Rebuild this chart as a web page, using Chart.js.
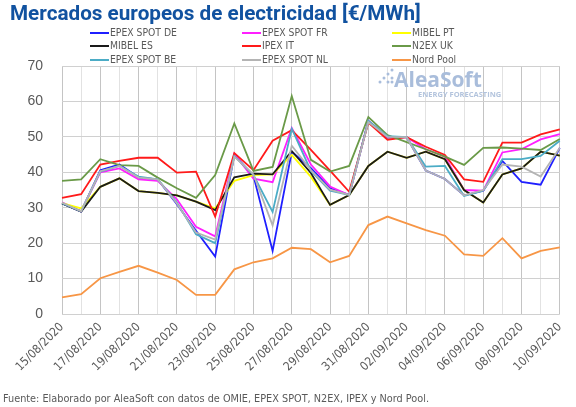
<!DOCTYPE html>
<html>
<head>
<meta charset="utf-8">
<script src="https://cdn.jsdelivr.net/npm/chart.js@4.4.0/dist/chart.umd.min.js"></script>
<style>
  html, body { margin: 0; padding: 0; background: #fff; }
</style>
</head>
<body>
<canvas id="chart" width="576" height="407"></canvas>
<script>
// daily prices 15/08/2020 - 10/09/2020, €/MWh
const dates = [
  '15/08/2020', '16/08/2020', '17/08/2020', '18/08/2020', '19/08/2020', '20/08/2020',
  '21/08/2020', '22/08/2020', '23/08/2020', '24/08/2020', '25/08/2020', '26/08/2020',
  '27/08/2020', '28/08/2020', '29/08/2020', '30/08/2020', '31/08/2020', '01/09/2020',
  '02/09/2020', '03/09/2020', '04/09/2020', '05/09/2020', '06/09/2020', '07/09/2020',
  '08/09/2020', '09/09/2020', '10/09/2020'
];

const epexDE = [31.2, 28.9, 40.6, 42.2, 38.5, 38.0, 31.0, 23.5, 16.2, 44.9, 39.0, 17.8, 45.8, 41.2,
  35.5, 33.6, 54.5, 49.8, 49.9, 40.5, 38.1, 33.5, 34.8, 43.2, 37.3, 36.5, 46.9];
const epexFR = [31.5, 29.0, 40.0, 41.1, 38.0, 37.6, 32.4, 24.6, 21.9, 45.2, 38.2, 37.2, 52.5, 42.2,
  36.0, 33.6, 54.5, 50.0, 49.9, 46.5, 44.4, 35.0, 34.8, 45.6, 46.5, 49.3, 50.8];
const mibelPT = [31.3, 29.8, 35.9, 38.3, 34.7, 34.2, 33.5, 31.7, 29.8, 37.6, 39.2, 39.4, 44.9, 38.7,
  30.8, 33.6, 41.8, 45.8, 44.1, 45.8, 43.7, 35.0, 31.5, 39.4, 41.1, 45.8, 44.7];
const mibelES = [31.2, 28.9, 35.9, 38.3, 34.7, 34.2, 33.5, 31.7, 29.3, 38.6, 39.6, 39.4, 46.0, 39.8,
  30.8, 33.6, 41.8, 45.8, 44.1, 45.8, 43.7, 35.0, 31.5, 39.4, 41.1, 45.8, 44.7];
const ipexIT = [32.8, 33.8, 42.2, 43.2, 44.1, 44.1, 39.9, 40.2, 27.5, 45.4, 40.6, 48.9, 51.9, 46.3,
  40.5, 34.5, 54.0, 49.2, 49.9, 47.2, 44.9, 38.0, 37.3, 48.4, 48.4, 50.7, 52.1];
const n2exUK = [37.6, 38.0, 43.7, 42.0, 41.8, 38.5, 35.5, 32.8, 39.2, 53.8, 40.4, 41.5, 61.5, 43.5,
  40.2, 41.8, 55.6, 50.5, 48.5, 46.5, 44.4, 42.1, 46.9, 47.0, 46.7, 46.3, 49.4];
const epexBE = [31.3, 29.0, 40.2, 41.8, 38.8, 38.0, 31.5, 22.5, 20.0, 44.6, 39.2, 28.8, 52.3, 40.4,
  34.8, 33.6, 54.5, 50.2, 49.9, 41.6, 41.8, 33.3, 34.8, 43.7, 43.7, 44.6, 48.9];
const epexNL = [31.4, 29.0, 40.3, 41.8, 38.5, 38.0, 31.2, 23.0, 21.0, 44.4, 39.4, 25.0, 47.5, 40.6,
  35.1, 33.6, 54.2, 50.0, 49.9, 40.5, 38.1, 33.5, 35.0, 42.2, 41.6, 38.8, 46.9];
const nordPool = [4.7, 5.6, 10.1, 11.9, 13.6, 11.7, 9.6, 5.4, 5.4, 12.6, 14.6, 15.7, 18.7, 18.3,
  14.6, 16.4, 25.1, 27.5, 25.6, 23.7, 22.1, 16.8, 16.4, 21.4, 15.7, 17.8, 18.8];

const seriesNames = ['EPEX SPOT DE', 'EPEX SPOT FR', 'MIBEL PT', 'MIBEL ES', 'IPEX IT', 'N2EX UK',
  'EPEX SPOT BE', 'EPEX SPOT NL', 'Nord Pool'];
const seriesValues = [epexDE, epexFR, mibelPT, mibelES, ipexIT, n2exUK, epexBE, epexNL, nordPool];
const seriesColors = ['#1f1fff', '#ff1fff', '#ffff00', '#1a1a1a', '#ff1a1a', '#6a9a48',
  '#4bacc6', '#b4b4b4', '#f79646'];

const textGray = '#595959';
const narrow = "'Liberation Sans Narrow', 'DejaVu Sans Condensed', 'Liberation Sans', sans-serif";

// title, legend in 3 columns, logo and source line
const decor = {
  id: 'decor',
  beforeDatasetsDraw(chart) {
    const ctx = chart.ctx;
    ctx.save();
    ctx.fillStyle = '#a9bddb';
    const dots = [[380, 82], [384, 78], [388, 82], [388, 74], [392, 78], [392, 82], [392, 70]];
    dots.forEach(([x, y]) => {
      ctx.beginPath();
      ctx.arc(x, y, 1.5, 0, Math.PI * 2);
      ctx.fill();
    });
    ctx.font = "bold 21px 'Open Sans', sans-serif";
    ctx.textBaseline = 'alphabetic';
    ctx.fillText('AleaSoft', 394, 87);
    ctx.font = "bold 7.5px 'Open Sans', sans-serif";
    ctx.fillStyle = '#b3c4dd';
    ctx.fillText('ENERGY FORECASTING', 418, 97);
    ctx.restore();
  },
  afterDraw(chart) {
    const ctx = chart.ctx;
    ctx.save();
    ctx.fillStyle = '#1152a0';
    ctx.font = "bold 20.7px 'Roboto', sans-serif";
    ctx.textBaseline = 'alphabetic';
    ctx.fillText('Mercados europeos de electricidad [€/MWh]', 10, 20);

    const colX = [90, 242, 392];
    const rowY = [33, 46, 60];
    ctx.font = '10.3px ' + narrow;
    ctx.textBaseline = 'middle';
    chart.data.datasets.forEach((ds, i) => {
      const x = colX[i % 3];
      const y = rowY[Math.floor(i / 3)];
      ctx.strokeStyle = ds.borderColor;
      ctx.lineWidth = 2;
      ctx.beginPath();
      ctx.moveTo(x, y);
      ctx.lineTo(x + 19, y);
      ctx.stroke();
      ctx.fillStyle = textGray;
      ctx.fillText(ds.label, x + 20, y + 0.5);
    });

    ctx.font = '10.8px ' + narrow;
    ctx.fillStyle = textGray;
    ctx.textBaseline = 'alphabetic';
    ctx.fillText('Fuente: Elaborado por AleaSoft con datos de OMIE, EPEX SPOT, N2EX, IPEX y Nord Pool.', 3, 402);
    ctx.restore();
  }
};

new Chart(document.getElementById('chart'), {
  type: 'line',
  data: {
    labels: dates,
    datasets: seriesNames.map((name, i) => ({
      label: name,
      data: seriesValues[i],
      borderColor: seriesColors[i],
      backgroundColor: seriesColors[i],
      borderWidth: 1.8,
      pointRadius: 0,
      tension: 0,
      order: seriesNames.length - i
    }))
  },
  options: {
    responsive: false,
    animation: false,
    layout: { padding: { top: 66, left: 0, right: 14, bottom: 20 } },
    plugins: {
      legend: { display: false },
      title: { display: false },
      tooltip: { enabled: false }
    },
    scales: {
      x: {
        offset: false,
        afterFit: (scale) => { scale.height = 73; },
        grid: {
          drawTicks: false,
          color: (c) => (c.index % 2 === 0 ? '#c4c4c4' : '#e2e2e2'),
          lineWidth: 1
        },
        border: { display: false },
        ticks: {
          autoSkip: false,
          maxRotation: 45,
          minRotation: 45,
          padding: 6,
          color: textGray,
          font: { family: narrow, size: 12 },
          callback: function (value, index) {
            return index % 2 === 0 ? this.getLabelForValue(value) : '';
          }
        }
      },
      y: {
        min: 0,
        max: 70,
        afterFit: (scale) => { scale.width = 62; },
        grid: {
          drawTicks: false,
          color: (c) => (c.tick.value % 10 === 0 ? '#d0d0d0' : '#e8e8e8'),
          lineWidth: 1
        },
        border: { display: false },
        ticks: {
          stepSize: 5,
          padding: 19,
          color: textGray,
          font: { family: "'Liberation Sans', sans-serif", size: 14 },
          callback: (v) => (v % 10 === 0 ? v : '')
        }
      }
    }
  },
  plugins: [decor]
});
</script>
</body>
</html>
